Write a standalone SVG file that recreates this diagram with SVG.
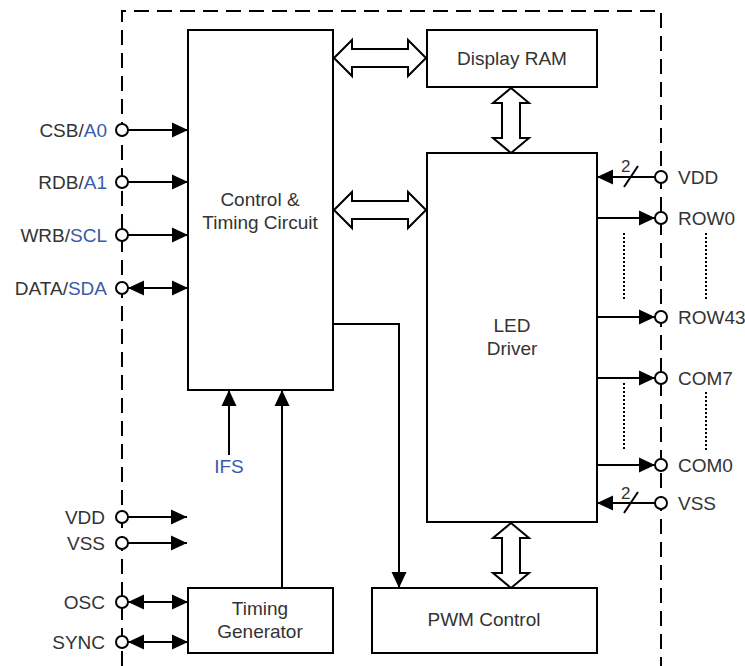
<svg xmlns="http://www.w3.org/2000/svg" width="745" height="666" viewBox="0 0 745 666">
<defs>
<style>
.box{fill:#fff;stroke:#000;stroke-width:2}
.ln{fill:none;stroke:#000;stroke-width:2}
.big{fill:#fff;stroke:#000;stroke-width:2;stroke-linejoin:miter}
.pin{fill:#fff;stroke:#000;stroke-width:2}
.dot{fill:none;stroke:#000;stroke-width:2;stroke-dasharray:2,2}
.t{font-family:"Liberation Sans",Arial,sans-serif;font-size:19px;fill:#333}
.b{fill:#3a5ba9}
.l{text-anchor:end}
.m{text-anchor:middle}
.s{font-size:17px}
</style>
<marker id="ah" markerWidth="17" markerHeight="16" refX="16" refY="8" orient="auto-start-reverse" markerUnits="userSpaceOnUse"><path d="M0,0.5 L16,8 L0,15.5 Z" fill="#000"/></marker>
</defs>
<rect width="745" height="666" fill="#fff"/>
<path d="M122,666 V11 H661 V666" fill="none" stroke="#000" stroke-width="2" stroke-dasharray="15,8"/>

<g id="connectors">
<line class="ln" x1="128" y1="130" x2="188" y2="130" marker-end="url(#ah)"/>
<line class="ln" x1="128" y1="182" x2="188" y2="182" marker-end="url(#ah)"/>
<line class="ln" x1="128" y1="235" x2="188" y2="235" marker-end="url(#ah)"/>
<line class="ln" x1="128" y1="288" x2="188" y2="288" marker-start="url(#ah)" marker-end="url(#ah)"/>
<line class="ln" x1="128" y1="517" x2="187" y2="517" marker-end="url(#ah)"/>
<line class="ln" x1="128" y1="543" x2="187" y2="543" marker-end="url(#ah)"/>
<line class="ln" x1="128" y1="602" x2="188" y2="602" marker-start="url(#ah)" marker-end="url(#ah)"/>
<line class="ln" x1="128" y1="642" x2="188" y2="642" marker-start="url(#ah)" marker-end="url(#ah)"/>
<line class="ln" x1="229" y1="455" x2="229" y2="390" marker-end="url(#ah)"/>
<line class="ln" x1="282" y1="588" x2="282" y2="390" marker-end="url(#ah)"/>
<path class="ln" d="M333,324 H399 V588" marker-end="url(#ah)"/>
<line class="ln" x1="655" y1="177" x2="597" y2="177" marker-end="url(#ah)"/>
<line class="ln" x1="624" y1="187" x2="638" y2="166"/>
<line class="ln" x1="655" y1="503" x2="597" y2="503" marker-end="url(#ah)"/>
<line class="ln" x1="624" y1="513" x2="638" y2="492"/>
<line class="ln" x1="597" y1="218" x2="655" y2="218" marker-end="url(#ah)"/>
<line class="ln" x1="597" y1="317" x2="655" y2="317" marker-end="url(#ah)"/>
<line class="ln" x1="597" y1="378" x2="655" y2="378" marker-end="url(#ah)"/>
<line class="ln" x1="597" y1="465" x2="655" y2="465" marker-end="url(#ah)"/>
<line class="dot" x1="624" y1="233" x2="624" y2="300"/>
<line class="dot" x1="706" y1="233" x2="706" y2="300"/>
<line class="dot" x1="624" y1="383" x2="624" y2="450"/>
<line class="dot" x1="706" y1="392" x2="706" y2="452"/>
<polygon class="big" points="334,58 352,40 352,49 408,49 408,40 426,58 408,76 408,67 352,67 352,76"/>
<polygon class="big" points="334,210 352,192 352,201 408,201 408,192 426,210 408,228 408,219 352,219 352,228"/>
<polygon class="big" points="511,88 529,103 520,103 520,138 529,138 511,153 493,138 502,138 502,103 493,103"/>
<polygon class="big" points="511,523 529,538 520,538 520,573 529,573 511,588 493,573 502,573 502,538 493,538"/>
</g>

<g id="control"><rect class="box" x="188" y="30" width="145" height="360"/>
<text class="t m" x="260" y="206">Control &amp;</text><text class="t m" x="260" y="229">Timing Circuit</text></g>
<g id="ram"><rect class="box" x="427" y="30" width="170" height="57"/>
<text class="t m" x="512" y="65">Display RAM</text></g>
<g id="led"><rect class="box" x="427" y="153" width="170" height="369"/>
<text class="t m" x="512" y="332">LED</text><text class="t m" x="512" y="355">Driver</text></g>
<g id="pwm"><rect class="box" x="372" y="588" width="225" height="65"/>
<text class="t m" x="484" y="626">PWM Control</text></g>
<g id="timing"><rect class="box" x="188" y="588" width="145" height="65"/>
<text class="t m" x="260" y="615">Timing</text><text class="t m" x="260" y="638">Generator</text></g>

<g id="pins">
<circle class="pin" cx="122" cy="130" r="6"/>
<circle class="pin" cx="122" cy="182" r="6"/>
<circle class="pin" cx="122" cy="235" r="6"/>
<circle class="pin" cx="122" cy="288" r="6"/>
<circle class="pin" cx="122" cy="517" r="6"/>
<circle class="pin" cx="122" cy="543" r="6"/>
<circle class="pin" cx="122" cy="602" r="6"/>
<circle class="pin" cx="122" cy="642" r="6"/>
<circle class="pin" cx="661" cy="177" r="6"/>
<circle class="pin" cx="661" cy="218" r="6"/>
<circle class="pin" cx="661" cy="317" r="6"/>
<circle class="pin" cx="661" cy="378" r="6"/>
<circle class="pin" cx="661" cy="465" r="6"/>
<circle class="pin" cx="661" cy="503" r="6"/>
</g>

<g id="labels">
<text class="t l" x="107" y="137">CSB/<tspan class="b">A0</tspan></text>
<text class="t l" x="107" y="189">RDB/<tspan class="b">A1</tspan></text>
<text class="t l" x="107" y="242">WRB/<tspan class="b">SCL</tspan></text>
<text class="t l" x="107" y="295">DATA/<tspan class="b">SDA</tspan></text>
<text class="t l" x="105" y="524">VDD</text>
<text class="t l" x="105" y="550">VSS</text>
<text class="t l" x="105" y="609">OSC</text>
<text class="t l" x="105" y="649">SYNC</text>
<text class="t m b" x="229" y="473">IFS</text>
<text class="t" x="678" y="184">VDD</text>
<text class="t" x="678" y="225">ROW0</text>
<text class="t" x="678" y="324">ROW43</text>
<text class="t" x="678" y="385">COM7</text>
<text class="t" x="678" y="472">COM0</text>
<text class="t" x="678" y="510">VSS</text>
<text class="t s" x="621" y="172">2</text>
<text class="t s" x="621" y="499">2</text>
</g>
</svg>
